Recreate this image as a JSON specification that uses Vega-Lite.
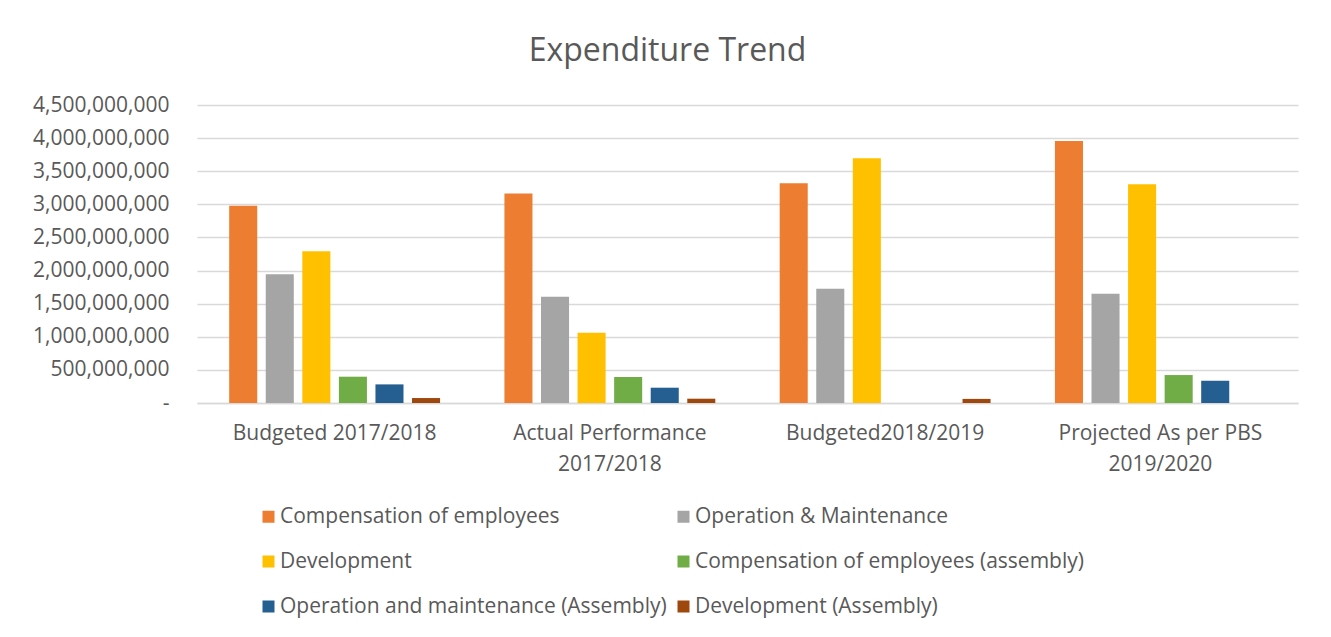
{
  "$schema": "https://vega.github.io/schema/vega-lite/v6.json",
  "autosize": {"type": "none"},
  "padding": {"left": 197, "top": 105, "right": 33, "bottom": 234},
  "width": 1101,
  "height": 298,
  "background": "white",
  "title": {
    "text": "Expenditure Trend",
    "font": "Open Sans",
    "fontSize": 32,
    "fontWeight": "normal",
    "color": "#595959",
    "anchor": "middle",
    "dx": -80,
    "offset": 26
  },
  "data": {
    "values": [
      {"period": "Budgeted 2017/2018", "series": "Compensation of employees", "value": 2980000000},
      {"period": "Budgeted 2017/2018", "series": "Operation & Maintenance", "value": 1946000000},
      {"period": "Budgeted 2017/2018", "series": "Development", "value": 2293000000},
      {"period": "Budgeted 2017/2018", "series": "Compensation of employees (assembly)", "value": 397000000},
      {"period": "Budgeted 2017/2018", "series": "Operation and maintenance (Assembly)", "value": 281000000},
      {"period": "Budgeted 2017/2018", "series": "Development (Assembly)", "value": 75000000},
      {"period": "Actual Performance 2017/2018", "series": "Compensation of employees", "value": 3162000000},
      {"period": "Actual Performance 2017/2018", "series": "Operation & Maintenance", "value": 1604000000},
      {"period": "Actual Performance 2017/2018", "series": "Development", "value": 1060000000},
      {"period": "Actual Performance 2017/2018", "series": "Compensation of employees (assembly)", "value": 392000000},
      {"period": "Actual Performance 2017/2018", "series": "Operation and maintenance (Assembly)", "value": 231000000},
      {"period": "Actual Performance 2017/2018", "series": "Development (Assembly)", "value": 65000000},
      {"period": "Budgeted2018/2019", "series": "Compensation of employees", "value": 3319000000},
      {"period": "Budgeted2018/2019", "series": "Operation & Maintenance", "value": 1724000000},
      {"period": "Budgeted2018/2019", "series": "Development", "value": 3696000000},
      {"period": "Budgeted2018/2019", "series": "Compensation of employees (assembly)", "value": 0},
      {"period": "Budgeted2018/2019", "series": "Operation and maintenance (Assembly)", "value": 0},
      {"period": "Budgeted2018/2019", "series": "Development (Assembly)", "value": 62000000},
      {"period": "Projected As per PBS 2019/2020", "series": "Compensation of employees", "value": 3957000000},
      {"period": "Projected As per PBS 2019/2020", "series": "Operation & Maintenance", "value": 1649000000},
      {"period": "Projected As per PBS 2019/2020", "series": "Development", "value": 3304000000},
      {"period": "Projected As per PBS 2019/2020", "series": "Compensation of employees (assembly)", "value": 422000000},
      {"period": "Projected As per PBS 2019/2020", "series": "Operation and maintenance (Assembly)", "value": 336000000},
      {"period": "Projected As per PBS 2019/2020", "series": "Development (Assembly)", "value": 0}
    ]
  },
  "mark": {"type": "bar"},
  "encoding": {
    "x": {
      "field": "period",
      "type": "nominal",
      "sort": null,
      "scale": {"paddingInner": 0, "paddingOuter": 0},
      "axis": {
        "title": null,
        "labelAngle": 0,
        "labelFont": "Open Sans",
        "labelFontSize": 21,
        "labelColor": "#595959",
        "labelPadding": 19,
        "labelLineHeight": 31,
        "labelExpr": "datum.label == 'Actual Performance 2017/2018' ? ['Actual Performance', '2017/2018'] : datum.label == 'Projected As per PBS 2019/2020' ? ['Projected As per PBS', '2019/2020'] : datum.label",
        "ticks": false,
        "domain": true,
        "domainColor": "#d9d9d9",
        "domainWidth": 1.5,
        "labelLimit": 400
      }
    },
    "xOffset": {
      "field": "series",
      "type": "nominal",
      "sort": null,
      "scale": {"paddingInner": 0.233, "paddingOuter": 0.88}
    },
    "y": {
      "field": "value",
      "type": "quantitative",
      "scale": {"domain": [0, 4500000000], "nice": false},
      "axis": {
        "title": null,
        "values": [0, 500000000, 1000000000, 1500000000, 2000000000, 2500000000, 3000000000, 3500000000, 4000000000, 4500000000],
        "labelExpr": "datum.value == 0 ? '-\u00a0\u00a0\u00a0\u00a0\u00a0\u00a0\u00a0' : format(datum.value, ',')",
        "labelFont": "Open Sans",
        "labelFontSize": 21,
        "labelColor": "#595959",
        "labelPadding": 28,
        "ticks": false,
        "domain": false,
        "grid": true,
        "gridColor": "#d9d9d9",
        "gridWidth": 1.5
      }
    },
    "color": {
      "field": "series",
      "type": "nominal",
      "sort": null,
      "scale": {
        "domain": ["Compensation of employees", "Operation & Maintenance", "Development", "Compensation of employees (assembly)", "Operation and maintenance (Assembly)", "Development (Assembly)"],
        "range": ["#ED7D31", "#A5A5A5", "#FFC000", "#70AD47", "#255E91", "#9E480E"]
      },
      "legend": {
        "title": null,
        "orient": "none",
        "direction": "horizontal",
        "legendX": 61,
        "legendY": 401,
        "columns": 2,
        "columnPadding": 6,
        "rowPadding": 23,
        "symbolType": "square",
        "symbolSize": 144,
        "symbolStrokeWidth": 0,
        "labelFont": "Open Sans",
        "labelFontSize": 21,
        "labelColor": "#595959",
        "labelOffset": 1,
        "labelLimit": 500
      }
    }
  },
  "config": {
    "view": {"stroke": null}
  }
}
